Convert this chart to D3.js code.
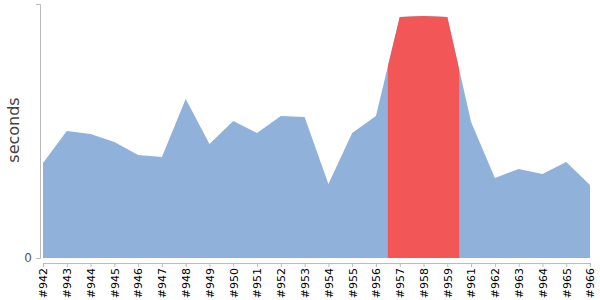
<!DOCTYPE html>
<html>
<head>
<meta charset="utf-8">
<script src="https://cdn.jsdelivr.net/npm/d3@7"></script>
<style>
  html, body { margin: 0; padding: 0; background: #fff; }
  svg { display: block; }
</style>
</head>
<body>
<svg id="chart" width="600" height="300"></svg>
<script>
const builds = ["#942","#943","#944","#945","#946","#947","#948","#949","#950","#951","#952","#953","#954","#955","#956","#957","#958","#959","#961","#962","#963","#964","#965","#966"];
const seconds = [95,127,124,116,103,101,159,114,137,125,142,141,74,125,142,241,242,241,136,80,89,84,96,73];
const highlighted = ["#957","#958","#959"];
const yTicks = [0];
const yMax = 254;

const data = builds.map((b, i) => ({ build: b, value: seconds[i] }));

const svg = d3.select("#chart");
const x = d3.scalePoint().domain(builds).range([43, 590]);
const y = d3.scaleLinear().domain([0, yMax]).range([258, 4]);
const step = x.step();

const area = d3.area()
  .x(d => x(d.build))
  .y0(y(0))
  .y1(d => y(d.value))
  .curve(d3.curveLinear);

svg.append("path").datum(data)
  .attr("d", area)
  .attr("fill", "#8fb1da");

const hx0 = x(highlighted[0]) - step / 2;
const hx1 = x(highlighted[highlighted.length - 1]) + step / 2;
svg.append("clipPath").attr("id", "hl")
  .append("rect")
  .attr("x", hx0).attr("y", 0)
  .attr("width", hx1 - hx0).attr("height", 300);

svg.append("path").datum(data)
  .attr("d", area)
  .attr("fill", "#f25656")
  .attr("clip-path", "url(#hl)");

// y axis
const yAxis = svg.append("g")
  .attr("transform", "translate(40,0)")
  .call(d3.axisLeft(y).tickValues(yTicks).tickSizeOuter(0).tickSize(4).tickPadding(4));
yAxis.select(".domain").attr("stroke", "#bbb");
yAxis.selectAll(".tick line").attr("stroke", "#bbb");
yAxis.selectAll(".tick text")
  .attr("font-family", "DejaVu Sans, sans-serif")
  .attr("font-size", 12)
  .attr("fill", "#555");

// x axis
const xAxis = svg.append("g")
  .attr("transform", "translate(0,263)")
  .call(d3.axisBottom(x).tickSizeOuter(0).tickSize(4));
xAxis.select(".domain").attr("stroke", "#bbb");
xAxis.selectAll(".tick line").attr("stroke", "#bbb");
xAxis.selectAll(".tick text")
  .attr("font-family", "DejaVu Sans, sans-serif")
  .attr("font-size", 11)
  .attr("fill", "#000")
  .attr("text-anchor", "end")
  .attr("dy", "0.35em")
  .attr("transform", "translate(0,5) rotate(-90)")
  .attr("x", 0)
  .attr("y", 0);

// y label
svg.append("text")
  .attr("transform", "translate(19,130) rotate(-90)")
  .attr("text-anchor", "middle")
  .attr("font-family", "DejaVu Sans, sans-serif")
  .attr("font-size", 16)
  .attr("fill", "#444")
  .text("seconds");
</script>
</body>
</html>
